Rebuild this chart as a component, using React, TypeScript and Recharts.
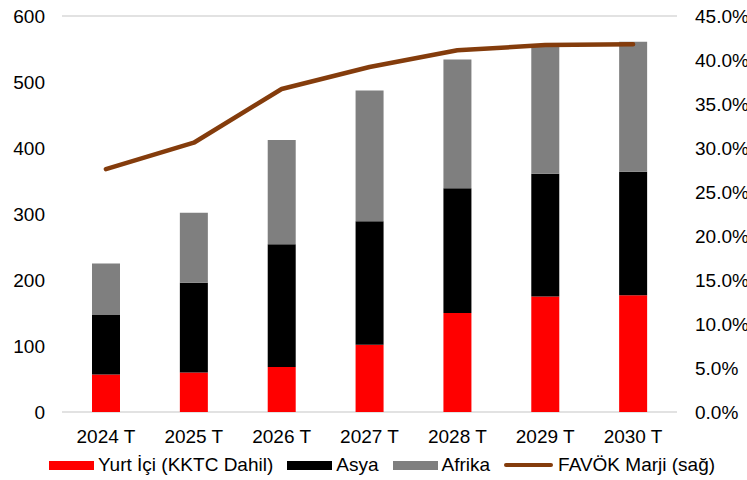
import React from "react";
import {
  ComposedChart,
  Bar,
  Line,
  XAxis,
  YAxis,
  CartesianGrid,
  Legend,
} from "recharts";

// Categories (years, forecast)
const years = ["2024 T", "2025 T", "2026 T", "2027 T", "2028 T", "2029 T", "2030 T"];

// Stacked segments (left axis)
const yurtIci = [57, 60, 68, 102, 150, 175, 177];
const asya = [90, 136, 186, 187, 189, 186, 187];
const afrika = [78, 106, 158, 198, 195, 194, 197];

// EBITDA margin, % (right axis)
const favokMarji = [27.6, 30.6, 36.7, 39.2, 41.1, 41.7, 41.8];

// Axis ticks
const leftTicks = [0, 100, 200, 300, 400, 500, 600];
const rightTicks = [0, 5, 10, 15, 20, 25, 30, 35, 40, 45];

const seriesNames = {
  yurtIci: "Yurt İçi (KKTC Dahil)",
  asya: "Asya",
  afrika: "Afrika",
  favok: "FAVÖK Marji (sağ)",
};

const COLORS = {
  yurtIci: "#ff0000",
  asya: "#000000",
  afrika: "#7f7f7f",
  favok: "#843c0c",
};

const data = years.map((year, i) => ({
  year,
  yurtIci: yurtIci[i],
  asya: asya[i],
  afrika: afrika[i],
  favok: favokMarji[i],
}));

const FONT = "'Liberation Sans', Arial, sans-serif";
const tickStyle = { fontSize: 19, fill: "#000", fontFamily: FONT };

const legendItems = [
  { label: seriesNames.yurtIci, color: COLORS.yurtIci, kind: "rect" },
  { label: seriesNames.asya, color: COLORS.asya, kind: "rect" },
  { label: seriesNames.afrika, color: COLORS.afrika, kind: "rect" },
  { label: seriesNames.favok, color: COLORS.favok, kind: "line" },
];

function LegendContent() {
  return (
    <div
      style={{
        display: "flex",
        alignItems: "center",
        height: 30,
        paddingLeft: 49,
        fontFamily: FONT,
        fontSize: 19,
        color: "#000",
        whiteSpace: "nowrap",
      }}
    >
      {legendItems.map((it) => (
        <div key={it.label} style={{ display: "flex", alignItems: "center", marginRight: 14 }}>
          {it.kind === "rect" ? (
            <div style={{ width: 45, height: 9, background: it.color, marginRight: 4 }} />
          ) : (
            <div
              style={{
                width: 49,
                height: 4,
                borderRadius: 2,
                background: it.color,
                marginRight: 5,
              }}
            />
          )}
          <span>{it.label}</span>
        </div>
      ))}
    </div>
  );
}

export default function App() {
  return (
    <div style={{ position: "absolute", left: 0, top: 0, width: 747, height: 480, background: "#fff" }}>
      <ComposedChart
        width={747}
        height={480}
        data={data}
        margin={{ top: 16, right: 0, bottom: 0, left: 0 }}
      >
        <CartesianGrid vertical={false} stroke="#d9d9d9" strokeWidth={1.5} />
        <XAxis
          dataKey="year"
          axisLine={false}
          tickLine={false}
          tickSize={0}
          tickMargin={18}
          height={38}
          tick={tickStyle}
          interval={0}
        />
        <YAxis
          yAxisId="left"
          orientation="left"
          domain={[0, 600]}
          ticks={leftTicks}
          axisLine={false}
          tickLine={false}
          tickSize={0}
          tickMargin={17}
          width={62}
          tick={tickStyle}
        />
        <YAxis
          yAxisId="right"
          orientation="right"
          domain={[0, 45]}
          ticks={rightTicks}
          axisLine={false}
          tickLine={false}
          tickSize={0}
          tickMargin={18}
          width={70}
          tick={{ ...tickStyle, textAnchor: "start" }}
          tickFormatter={(v: number) => `${v.toFixed(1)}%`}
        />
        <Legend verticalAlign="bottom" content={<LegendContent />} wrapperStyle={{ left: 0, width: 747, height: 30 }} />
        <Bar yAxisId="left" dataKey="yurtIci" name={seriesNames.yurtIci} stackId="s" fill={COLORS.yurtIci} barSize={28} isAnimationActive={false} />
        <Bar yAxisId="left" dataKey="asya" name={seriesNames.asya} stackId="s" fill={COLORS.asya} barSize={28} isAnimationActive={false} />
        <Bar yAxisId="left" dataKey="afrika" name={seriesNames.afrika} stackId="s" fill={COLORS.afrika} barSize={28} isAnimationActive={false} />
        <Line
          yAxisId="right"
          dataKey="favok"
          name={seriesNames.favok}
          type="linear"
          stroke={COLORS.favok}
          strokeWidth={4.5}
          strokeLinecap="round"
          strokeLinejoin="round"
          dot={false}
          activeDot={false}
          isAnimationActive={false}
        />
      </ComposedChart>
    </div>
  );
}
